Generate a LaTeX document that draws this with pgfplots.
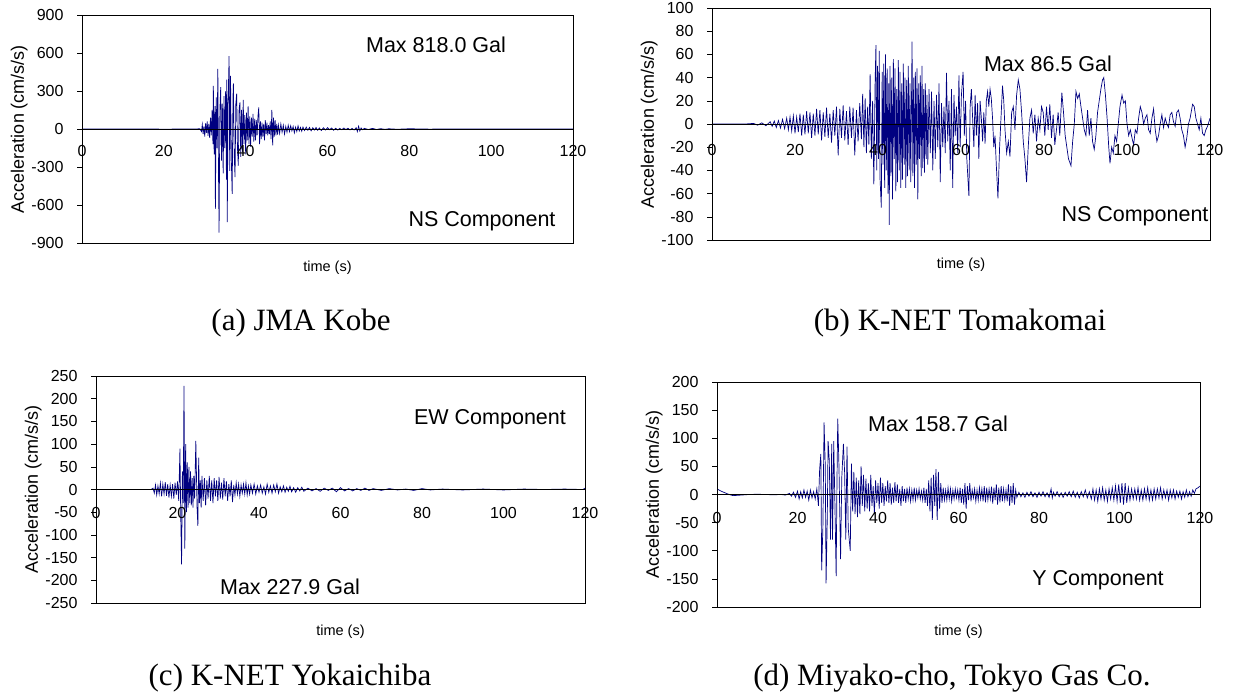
\documentclass[border=0pt]{standalone}
\usepackage{pgfplots}
\pgfplotsset{compat=1.18}
\usepackage{fontspec}
\setmainfont{Liberation Sans}
\newfontfamily\serif{Liberation Serif}
\definecolor{trace}{RGB}{0,0,128}
\pgfplotsset{seis/.style={
  scale only axis, xmin=0, xmax=120, xtick={0,20,...,120},
  xtick style={draw=none}, tick align=outside, ytick pos=left,
  ytick style={black, line width=0.6pt}, major tick length=5pt,
  axis line style={line width=0.8pt, black},
  ticklabel style={font=\fontsize{16}{16}\selectfont},
  yticklabel style={xshift=-10pt},
  /pgf/number format/assume math mode=true,
  /pgf/number format/1000 sep={},
  xlabel={time (s)}, ylabel={Acceleration (cm/s/s)},
  xlabel style={font=\fontsize{14.5}{15}\selectfont, at={(rel axis cs:0.5,0)}, anchor=center, yshift=-25pt},
  ylabel style={font=\fontsize{18}{18}\selectfont},
  ylabel shift=-13pt,
  extra y ticks={0}, extra y tick labels={},
  extra y tick style={grid=major, major grid style={black, line width=0.7pt}},
  axis on top,
}}
\begin{document}
\begin{tikzpicture}
\useasboundingbox (0,0) rectangle (1236pt,-693pt);
% (a) JMA Kobe
\begin{axis}[seis, at={(82pt,-243pt)}, anchor=south west, width=491pt, height=228pt,
  ymin=-900, ymax=900, ytick={-900,-600,...,900}, xticklabel style={yshift=106pt}]
\addplot[trace, line width=0.7pt] table {
0 0
10 1
20 -1
28 0
28.8 3
29.2 -20
29.4 35
29.6 -40
29.8 20
30.0 -60
30.2 45
30.4 -30
30.6 60
30.8 -55
31.0 40
31.2 -70
31.4 90
31.6 -50
31.8 150
32.0 -120
32.1 340
32.3 -200
32.5 180
32.6 -630
32.8 250
33.0 -150
33.2 475
33.35 -300
33.5 -818
33.7 150
33.9 330
34.1 -250
34.3 200
34.5 -350
34.7 260
34.9 -150
35.1 300
35.3 -400
35.4 390
35.5 -735
35.7 200
35.95 575
36.1 -330
36.3 420
36.5 -250
36.7 -512
36.9 250
37.0 360
37.2 -200
37.4 -380
37.6 200
37.8 280
38.0 -150
38.2 -290
38.4 160
38.6 210
38.8 -220
39.0 150
39.2 -180
39.4 230
39.6 -120
39.8 110
40.0 -200
40.2 130
40.4 -90
40.6 180
40.8 -120
41.0 100
41.2 -140
41.4 90
41.6 -60
41.8 120
42.0 -100
42.2 80
42.4 -90
42.6 70
42.8 -50
43.0 100
43.2 170
43.4 -120
43.6 60
43.8 -80
44.0 50
44.2 -60
44.4 40
44.6 -90
44.8 70
45.0 -40
45.2 50
45.4 -50
45.6 30
45.8 -40
46.0 60
46.2 -80
46.4 150
46.6 -130
46.8 90
47.0 -60
47.2 70
47.4 -50
47.6 40
47.8 -45
48.0 30
48.3 -35
48.6 40
48.9 -25
49.2 30
49.5 -40
49.8 20
50.1 -25
50.4 30
50.7 -20
51.0 25
51.3 -15
51.6 20
51.9 -30
52.2 15
52.5 -20
52.8 25
53.1 -15
53.4 12
53.7 -18
54.0 15
54.4 -12
54.8 15
55.2 -10
55.6 12
56.0 -15
56.4 10
56.8 -8
57.2 12
57.6 -10
58.0 8
58.5 -12
59.0 10
59.5 -8
60.0 10
60.5 -6
61 8
61.5 -10
62 6
62.5 -8
63 5
63.5 -6
64 8
64.5 -5
65 6
65.5 -7
66 5
66.5 -8
67 10
67.3 -20
67.6 22
67.9 -15
68.2 8
68.6 -6
69 5
70 -4
71 5
72 -4
73 3
74 -3
75 2
77 -2
80 2
85 -1
90 1
100 0
120 0
};
\end{axis}
% (b) K-NET Tomakomai
\begin{axis}[seis, at={(712pt,-240pt)}, anchor=south west, width=498pt, height=232pt,
  ymin=-100, ymax=100, ytick={-100,-80,...,100}, xticklabel style={yshift=104pt}]
\addplot[trace, line width=0.7pt] table {
0 0
8 0
10 0.5
11 -1
12 1
13 -1.5
14 2
14.5 -2
15 2.5
15.5 -3
16 3
16.5 -3.5
17 4
17.5 -4
18 5
18.4 -5
18.8 6
19.2 -6
19.6 7
20.0 -8
20.4 6
20.8 -7
21.2 9
21.6 -10
22.0 8
22.4 -9
22.8 11
23.2 -8
23.6 10
24.0 -12
24.4 9
24.8 -10
25.2 13
25.6 -9
26.0 12
26.4 -14
26.8 10
27.2 -11
27.6 14
28.0 -12
28.4 9
28.8 -16
29.2 12
29.6 -10
30.0 15
30.4 -27
30.8 13
31.2 -12
31.6 16
32.0 -14
32.4 11
32.8 -18
33.2 15
33.6 -12
34.0 14
34.4 -27
34.8 12
35.2 -15
35.6 18
36.0 -13
36.3 26
36.6 -20
36.9 22
37.2 -25
37.5 15
37.8 -18
38.1 43
38.4 -30
38.7 20
39.0 -52
39.3 35
39.5 68
39.7 -40
39.9 50
40.1 -30
40.3 63
40.5 -48
40.8 -72
41.0 45
41.2 -35
41.4 52
41.6 -55
41.8 60
42.0 -40
42.2 48
42.4 -60
42.6 35
42.7 -87
42.9 50
43.1 -45
43.3 40
43.5 -65
43.7 56
43.9 -30
44.1 48
44.3 -58
44.5 30
44.7 -50
44.9 55
45.1 -40
45.3 45
45.5 -55
45.7 35
45.9 -48
46.1 52
46.3 -35
46.5 40
46.7 -55
46.9 38
47.1 -45
47.3 50
47.5 -40
47.7 35
47.9 -50
48.2 71
48.4 -45
48.6 40
48.8 -55
49.0 45
49.2 -35
49.4 48
49.6 -65
49.8 35
50.0 -30
50.2 42
50.4 -45
50.6 50
50.8 -38
51.0 30
51.2 -42
51.4 35
51.6 -30
51.8 25
52.0 -35
52.3 30
52.6 -25
52.9 28
53.2 -40
53.5 20
53.8 -30
54.1 25
54.4 -20
54.7 35
55.0 -50
55.3 18
55.6 -20
55.9 15
56.2 -25
56.5 44
56.8 -15
57.1 20
57.4 -40
57.7 30
58.0 -55
58.3 25
58.6 -10
58.9 15
59.2 -25
59.5 42
59.8 -20
60.1 25
60.5 45
60.8 -10
61.1 20
61.4 -30
61.9 -62
62.2 15
62.5 30
62.8 5
63.1 -20
63.4 25
63.7 -10
64.0 18
64.3 -30
64.6 20
64.9 5
65.2 -15
65.5 10
65.8 -17
66.1 20
66.4 28
66.7 15
67.0 30
67.3 22
67.6 5
67.9 -20
68.2 -10
68.5 -35
68.9 -64
69.3 -20
69.7 10
70.0 33
70.3 20
70.6 -5
71.0 -25
71.4 -15
71.8 -28
72.2 10
72.6 15
73.0 -5
73.4 25
73.8 38
74.2 30
74.6 10
75.0 -15
75.4 -30
75.8 -50
76.2 -20
76.6 5
77.0 12
77.4 -8
77.8 8
78.2 -15
78.6 5
79.0 -5
79.4 15
79.8 10
80.2 -10
80.6 15
81.0 -5
81.4 17
81.8 -12
82.2 8
82.6 -18
83.0 -5
83.4 10
83.8 -10
84.3 27
84.7 10
85.1 -10
85.5 -20
85.9 -30
86.5 -36
86.9 -15
87.3 0
87.7 28
88.1 22
88.5 26
88.9 15
89.3 5
89.7 -5
90.1 -10
90.5 12
90.9 -10
91.3 5
91.7 -15
92.1 -22
92.5 -10
92.9 10
93.3 20
93.7 30
94.1 38
94.4 40
94.8 25
95.2 5
95.6 -20
95.9 -34
96.3 -20
96.7 -25
97.1 -10
97.5 -15
97.9 0
98.3 15
98.8 25
99.2 18
99.6 20
100.0 0
100.4 -10
100.8 -5
101.2 -12
101.6 -18
102.0 -5
102.4 -8
102.8 5
103.2 15
103.6 10
104.0 0
104.4 5
104.8 8
105.2 -5
105.6 -8
106.0 5
106.4 13
106.8 -5
107.2 -15
107.6 -10
108.0 0
108.4 8
108.8 -3
109.2 5
109.6 0
110.0 -3
110.4 8
110.8 10
111.2 2
111.6 -2
112.0 10
112.4 12
112.8 5
113.2 -5
113.6 -10
114.0 -20
114.4 -12
114.8 0
115.2 5
115.8 17
116.2 15
116.6 5
117.0 0
117.4 -5
117.8 5
118.2 -8
118.6 -10
119.0 -5
119.4 -2
120.0 5
};
\end{axis}
% (c) K-NET Yokaichiba
\begin{axis}[seis, at={(96pt,-603pt)}, anchor=south west, width=489pt, height=227pt,
  ymin=-250, ymax=250, ytick={-250,-200,...,250}, xticklabel style={yshift=104pt},
  xlabel style={yshift=-4pt}]
\addplot[trace, line width=0.7pt] table {
0 0
13.5 0
14.0 3
14.3 -8
14.6 10
14.9 -12
15.2 8
15.5 -10
15.8 14
16.1 -15
16.4 12
16.7 -10
17.0 16
17.3 -14
17.6 12
17.9 -18
18.2 10
18.5 -15
18.8 12
19.1 -20
19.4 15
19.7 -12
20.0 18
20.3 -25
20.6 90
20.8 -60
21.0 -165
21.2 40
21.4 -30
21.6 228
21.8 -130
22.0 100
22.2 -50
22.4 60
22.6 -40
22.8 50
23.0 -30
23.2 40
23.4 -35
23.6 25
23.8 -40
24.0 30
24.2 -20
24.5 107
24.8 -40
25.0 -80
25.2 70
25.4 -30
25.6 20
25.8 -40
26.0 30
26.3 -25
26.6 25
26.9 -35
27.2 20
27.5 -20
27.8 30
28.1 -25
28.4 20
28.7 -30
29.0 25
29.3 -15
29.6 20
29.9 -25
30.2 28
30.5 -20
30.8 15
31.1 -22
31.4 25
31.7 -15
32.0 18
32.3 -25
32.6 12
32.9 -15
33.2 20
33.5 -28
33.8 10
34.1 -12
34.4 15
34.7 -10
35.0 12
35.3 -15
35.6 10
35.9 -8
36.2 12
36.5 -10
36.8 15
37.1 -12
37.4 8
37.7 -10
38.0 10
38.4 -8
38.8 12
39.2 -10
39.6 8
40.0 -6
40.4 10
40.8 -8
41.2 6
41.6 -10
42.0 12
42.4 -6
42.8 8
43.2 -8
43.6 10
44.0 -5
44.4 12
44.8 -8
45.2 6
45.6 -5
46.0 8
46.4 -6
46.8 5
47.2 -4
47.6 7
48.0 -5
48.5 4
49.0 -6
49.5 4
50.0 -3
50.5 5
51.0 -4
52 3
53 -3
54 2
55 -4
56 3
57 -2
58 3
59 -5
60 4
61 -3
62 2
63 -3
64 2
65 -2
66 3
67 -2
68 2
70 -2
72 2
74 -1
76 1
78 -2
80 2
82 -1
85 1
90 -1
95 1
100 -1
105 1
110 0
115 1
119.5 0
120 3
};
\end{axis}
% (d) Miyako-cho
\begin{axis}[seis, at={(717pt,-607pt)}, anchor=south west, width=483pt, height=225pt,
  ymin=-200, ymax=200, ytick={-200,-150,...,200}, xticklabel style={yshift=103pt}]
\addplot[trace, line width=0.7pt] table {
0 10
1 6
2 3
3 0
4 -2
6 -1
8 0
10 0.5
12 0
14 -0.5
16 0
17 -1
18 2
18.5 -3
19 4
19.5 -5
20 6
20.4 -8
20.8 5
21.2 -6
21.6 8
22.0 -5
22.4 6
22.8 -10
23.2 8
23.6 -6
24.0 5
24.4 -8
24.8 10
25.2 -20
25.5 45
25.8 72
26.0 -135
26.3 -60
26.6 128
26.9 50
27.1 -158
27.4 -40
27.6 95
27.9 60
28.2 -80
28.5 90
28.7 -80
29.0 95
29.3 -20
29.6 -145
29.8 20
30.0 135
30.3 50
30.7 -115
31.0 30
31.4 90
31.7 40
32.0 -80
32.3 85
32.6 -60
33.1 -100
33.4 55
33.7 -30
34.0 40
34.3 -35
34.6 30
34.9 -40
35.2 25
35.5 -35
35.8 50
36.1 -20
36.4 35
36.7 -30
37.0 28
37.3 -25
37.6 20
37.9 -30
38.2 35
38.5 -20
38.8 15
39.1 -35
39.4 25
39.7 -15
40.0 20
40.3 -25
40.6 30
40.9 -15
41.2 20
41.5 -20
41.8 15
42.1 -12
42.4 25
42.7 -15
43.0 20
43.3 -18
43.6 12
43.9 -15
44.2 22
44.5 -12
44.8 18
45.1 -15
45.4 10
45.7 -20
46.0 15
46.3 -12
46.6 10
46.9 -15
47.2 12
47.5 -8
47.8 10
48.1 -12
48.4 8
48.7 -10
49.0 12
49.3 -10
49.6 8
49.9 -6
50.2 10
50.5 -8
50.8 6
51.1 -10
51.4 12
51.7 -15
52.0 10
52.3 -20
52.6 25
52.9 -30
53.2 30
53.5 -45
53.8 35
54.1 -20
54.4 45
54.7 -45
55.0 40
55.3 -25
55.6 20
55.9 -15
56.2 12
56.5 -10
56.8 8
57.1 -10
57.4 12
57.7 -8
58.0 10
58.3 -12
58.6 8
58.9 -8
59.2 10
59.5 -6
59.8 8
60.1 -10
60.4 12
60.7 -15
61.0 10
61.3 -18
61.6 20
61.9 -25
62.2 15
62.5 -10
62.8 20
63.1 -12
63.4 8
63.7 -6
64.0 10
64.3 -12
64.6 8
64.9 -10
65.2 12
65.5 -8
65.8 10
66.1 -12
66.4 15
66.7 -14
67.0 12
67.3 -10
67.6 10
67.9 -8
68.2 14
68.5 -16
68.8 12
69.1 -10
69.4 18
69.7 -18
70.0 12
70.3 -14
70.6 15
70.9 -12
71.2 10
71.5 -10
71.8 8
72.1 -12
72.4 18
72.7 -20
73.0 15
73.3 -15
73.6 20
73.9 -18
74.2 8
74.5 -5
75 4
75.5 -4
76 3
76.5 -5
77 4
77.5 -3
78 5
78.5 -4
79 3
79.5 -5
80 4
80.5 -3
81 5
81.5 -4
82 3
82.5 -5
83 10
83.3 -6
83.6 4
84 -3
84.5 5
85 -4
85.5 3
86 -5
86.5 4
87 -3
87.5 5
88 -4
88.5 6
89 -5
89.5 4
90 -6
90.5 5
91 -4
91.5 8
92 -6
92.5 5
93 -8
93.4 10
93.8 -10
94.2 8
94.6 -12
95.0 10
95.4 -8
95.8 12
96.2 -10
96.6 8
97.0 -12
97.4 10
97.8 -8
98.2 12
98.6 -10
99.0 15
99.4 -12
99.8 18
100.2 -15
100.6 20
101.0 -18
101.4 20
101.8 -15
102.2 12
102.6 -10
103.0 10
103.4 -8
103.8 10
104.2 -8
104.6 12
105.0 -10
105.4 8
105.8 -10
106.2 10
106.6 -8
107.0 12
107.4 -10
107.8 8
108.2 -10
108.6 10
109.0 -8
109.4 10
109.8 -6
110.2 12
110.6 -8
111.0 8
111.4 -6
111.8 8
112.2 -10
112.6 8
113.0 -6
113.4 8
113.8 -8
114.2 6
114.6 -5
115.0 6
115.4 -8
115.8 5
116.2 -5
116.6 8
117.0 -4
117.4 5
117.8 -3
118.2 8
118.6 2
119.0 10
119.5 12
120.0 15
};
\end{axis}
% annotations
\begin{scope}[every node/.style={font=\fontsize{21.5}{22}\selectfont, inner sep=0pt}]
\node at (436pt,-45pt) {Max 818.0 Gal};
\node at (482pt,-221pt) {NS Component};
\node at (1048pt,-64pt) {Max 86.5 Gal};
\node at (1135pt,-216pt) {NS Component};
\node at (490pt,-419pt) {EW Component};
\node at (290pt,-587pt) {Max 227.9 Gal};
\node at (938pt,-424pt) {Max 158.7 Gal};
\node at (1098pt,-580pt) {Y Component};
\end{scope}
\begin{scope}[every node/.style={font=\serif\fontsize{31}{33}\selectfont, inner sep=0pt}]
\node at (301pt,-323pt) {(a) JMA Kobe};
\node at (960pt,-323pt) {(b) K-NET Tomakomai};
\node at (290pt,-678pt) {(c) K-NET Yokaichiba};
\node at (952pt,-678pt) {(d) Miyako-cho, Tokyo Gas Co.};
\end{scope}
\end{tikzpicture}
\end{document}
